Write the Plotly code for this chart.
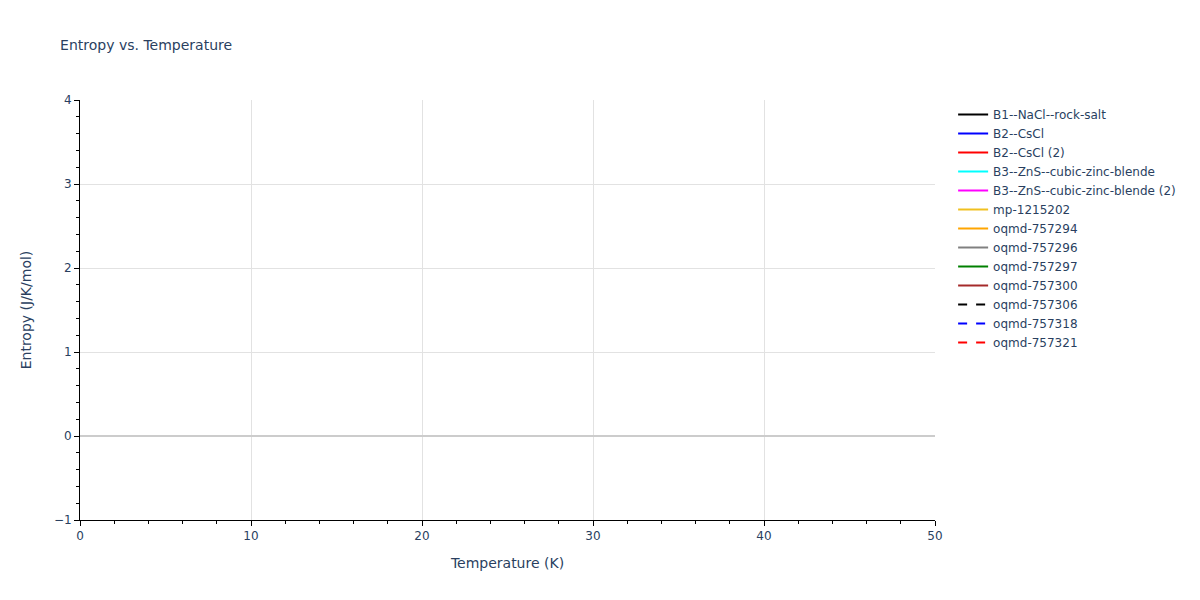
import plotly.graph_objects as go

# Phases / structures shown in the legend (no data points fall in the visible window)
names = ['B1--NaCl--rock-salt', 'B2--CsCl', 'B2--CsCl (2)', 'B3--ZnS--cubic-zinc-blende',
         'B3--ZnS--cubic-zinc-blende (2)', 'mp-1215202', 'oqmd-757294', 'oqmd-757296',
         'oqmd-757297', 'oqmd-757300', 'oqmd-757306', 'oqmd-757318', 'oqmd-757321']
colors = ['black', 'blue', 'red', 'cyan', 'magenta', '#f0c020', 'orange', 'gray',
          'green', 'brown', 'black', 'blue', 'red']
dashes = ['solid'] * 10 + ['dash'] * 3

# no valid points for any structure
temperature = [None]
entropy = [[None] for _ in names]

fig = go.Figure()
for name, color, dash, s in zip(names, colors, dashes, entropy):
    fig.add_trace(go.Scatter(x=temperature, y=s, mode='lines', name=name,
                             showlegend=True,
                             line=dict(color=color, dash=dash, width=2)))

axis_style = dict(showline=True, linecolor='black', linewidth=1, ticks='outside',
                  tickcolor='black', showgrid=True, gridcolor='#e2e2e2',
                  zeroline=True, zerolinecolor='#cccccc', zerolinewidth=2,
                  minor=dict(ticks='outside', tickcolor='black', ticklen=3))

fig.update_layout(
    title=dict(text='Entropy vs. Temperature', font=dict(size=14),
               x=0.044, y=0.937, yanchor='middle'),
    font=dict(family='Verdana, DejaVu Sans, sans-serif'),
    showlegend=True,
    margin=dict(l=72, t=92, b=72, r=256),
    plot_bgcolor='white', paper_bgcolor='white',
    xaxis=dict(title='Temperature (K)', range=[0, 50], dtick=10,
               minor_dtick=2, **axis_style),
    yaxis=dict(title=dict(text='Entropy (J/K/mol)', standoff=18), range=[-1, 4],
               dtick=1, minor_dtick=0.2, **axis_style),
)

fig.write_html("out.html")
